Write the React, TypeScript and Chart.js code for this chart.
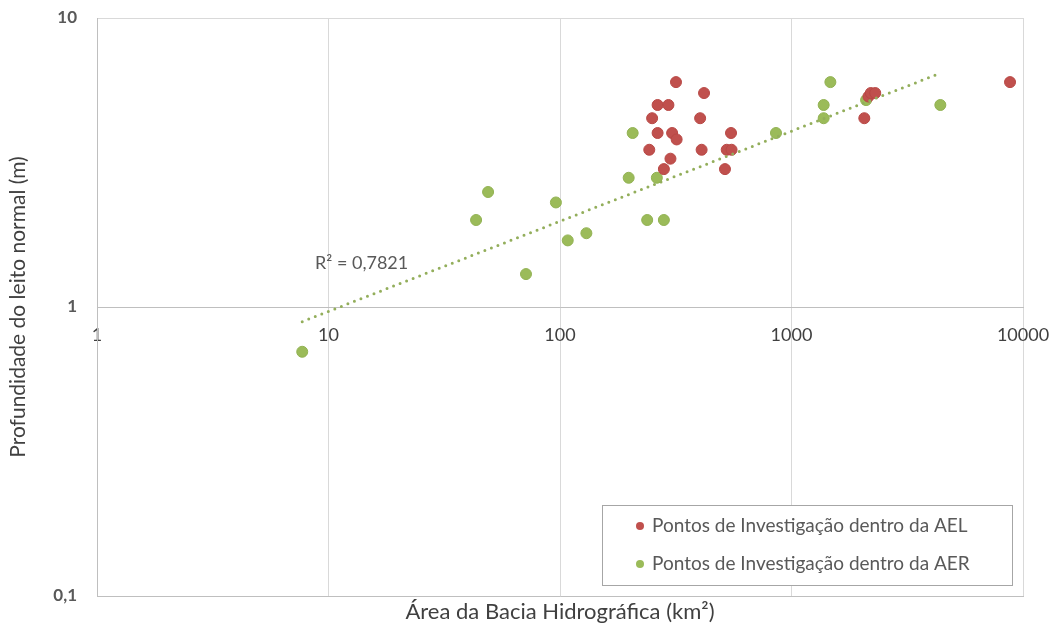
import React, { useEffect, useRef } from "react";
import { Chart, registerables } from "chart.js";

Chart.register(...registerables);

// Pontos de Investigação dentro da AEL (red)
const aelX = [317, 419, 264, 294, 250, 403, 264, 305, 319, 548, 243, 409, 525, 551, 300, 281, 516, 2063, 2150, 2200, 2300, 8790];
const aelY = [6.0, 5.5, 5.0, 5.0, 4.5, 4.5, 4.0, 4.0, 3.8, 4.0, 3.5, 3.5, 3.5, 3.5, 3.26, 3.0, 3.0, 4.5, 5.35, 5.5, 5.5, 6.0];

// Pontos de Investigação dentro da AER (green)
const aerX = [7.7, 43.4, 48.9, 71.3, 96, 108, 130, 198, 206, 238, 262, 281, 857, 1377, 1377, 1472, 2100, 4395];
const aerY = [0.7, 2.0, 2.5, 1.3, 2.3, 1.7, 1.8, 2.8, 4.0, 2.0, 2.8, 2.0, 4.0, 4.5, 5.0, 6.0, 5.2, 5.0];

// Power trendline end points
const trendX = [7.7, 4300];
const trendY = [0.89, 6.4];

const xTicks = [1, 10, 100, 1000, 10000];
const xTickLabels = ["1", "10", "100", "1000", "10000"];
const yTicks = [0.1, 1, 10];
const yTickLabels = ["0,1", "1", "10"];

const seriesLabels = [
  "Pontos de Investigação dentro da AEL",
  "Pontos de Investigação dentro da AER",
];
const r2Label = "R² = 0,7821";
const xTitle = "Área da Bacia Hidrográfica (km²)";
const yTitle = "Profundidade do leito normal (m)";

const RED = "#C0504D";
const GREEN = "#9BBB59";
const FONT = "Lato, 'Open Sans', sans-serif";

const toPoints = (xs: number[], ys: number[]) => xs.map((x, i) => ({ x, y: ys[i] }));

const overlayPlugin = {
  id: "overlay",
  afterDraw(chart: any) {
    const { ctx, chartArea } = chart;
    ctx.save();
    // R² label
    ctx.font = `18px ${FONT}`;
    ctx.fillStyle = "#595959";
    ctx.textBaseline = "middle";
    ctx.textAlign = "left";
    ctx.fillText(r2Label, chartArea.left + 218, chartArea.top + 245);

    // Legend box
    const w = 410;
    const h = 80;
    const x0 = Math.round(chartArea.right - 11 - w);
    const y0 = Math.round(chartArea.bottom - 11 - h);
    ctx.fillStyle = "#ffffff";
    ctx.fillRect(x0, y0, w, h);
    ctx.strokeStyle = "#A6A6A6";
    ctx.lineWidth = 1;
    ctx.strokeRect(x0 + 0.5, y0 + 0.5, w, h);
    const colors = [RED, GREEN];
    const rows = [y0 + 21, y0 + 59];
    ctx.font = `19px ${FONT}`;
    seriesLabels.forEach((lab, i) => {
      ctx.beginPath();
      ctx.fillStyle = colors[i];
      ctx.arc(x0 + 38, rows[i], 4, 0, Math.PI * 2);
      ctx.fill();
      ctx.fillStyle = "#595959";
      ctx.fillText(lab, x0 + 50, rows[i]);
    });
    ctx.restore();
  },
};

export default function App() {
  const ref = useRef<HTMLCanvasElement | null>(null);

  useEffect(() => {
    document.body.style.margin = "0";
    if (!ref.current) return;
    const chart = new Chart(ref.current, {
      type: "scatter",
      data: {
        datasets: [
          {
            label: "Trend",
            data: toPoints(trendX, trendY),
            showLine: true,
            pointRadius: 0,
            borderColor: "#93AE5B",
            borderWidth: 3,
            borderDash: [0, 7],
            borderCapStyle: "round",
            fill: false,
          } as any,
          {
            label: seriesLabels[0],
            data: toPoints(aelX, aelY),
            backgroundColor: RED,
            borderColor: "#B84845",
            borderWidth: 1,
            pointRadius: 5.5,
          },
          {
            label: seriesLabels[1],
            data: toPoints(aerX, aerY),
            backgroundColor: GREEN,
            borderColor: "#92B253",
            borderWidth: 1,
            pointRadius: 5.5,
          },
        ],
      },
      options: {
        animation: false,
        responsive: true,
        maintainAspectRatio: false,
        events: [],
        layout: { padding: { top: 18, right: 27, left: 0, bottom: 0 } },
        plugins: {
          legend: { display: false },
          tooltip: { enabled: false },
        },
        scales: {
          x: {
            type: "logarithmic",
            position: "bottom",
            min: 1,
            max: 10000,
            afterBuildTicks: (s: any) => {
              s.ticks = xTicks.map((v) => ({ value: v }));
            },
            afterFit: (s: any) => {
              s.height = 29;
            },
            ticks: { display: false },
            grid: { color: "#D9D9D9", drawTicks: false, lineWidth: 1 },
            border: { display: true, color: "#BFBFBF" },
            title: {
              display: true,
              text: xTitle,
              color: "#404040",
              font: { family: FONT, size: 22 },
              padding: { top: 0, bottom: 0 },
            },
          },
          x2: {
            type: "logarithmic",
            position: { y: 1 } as any,
            min: 1,
            max: 10000,
            afterBuildTicks: (s: any) => {
              s.ticks = xTicks.map((v) => ({ value: v }));
            },
            ticks: {
              autoSkip: false,
              maxRotation: 0,
              padding: 0,
              color: "#404040",
              font: { family: FONT, size: 18 },
              callback: (_v: any, i: number) => xTickLabels[i],
            },
            grid: { display: false, drawTicks: true, tickLength: 17, tickColor: "rgba(0,0,0,0)" },
            border: { display: true, color: "#BFBFBF" },
          } as any,
          y: {
            type: "logarithmic",
            position: "left",
            min: 0.1,
            max: 10,
            afterBuildTicks: (s: any) => {
              s.ticks = yTicks.map((v) => ({ value: v }));
            },
            afterFit: (s: any) => {
              s.width = 97;
            },
            ticks: {
              autoSkip: false,
              padding: 0,
              color: "#595959",
              font: { family: FONT, size: 17, weight: "bold" },
              callback: (_v: any, i: number) => yTickLabels[i],
            },
            grid: { color: "#D9D9D9", drawTicks: true, tickLength: 20, tickColor: "rgba(0,0,0,0)", lineWidth: 1 },
            border: { display: true, color: "#BFBFBF" },
            title: {
              display: true,
              text: yTitle,
              color: "#404040",
              font: { family: FONT, size: 21 },
              padding: { top: 6, bottom: 0 },
            },
          },
        },
      },
      plugins: [overlayPlugin],
    });
    return () => chart.destroy();
  }, []);

  return (
    <div style={{ position: "fixed", left: 0, top: 0, width: 1050, height: 625, background: "#fff" }}>
      <canvas ref={ref} />
    </div>
  );
}
